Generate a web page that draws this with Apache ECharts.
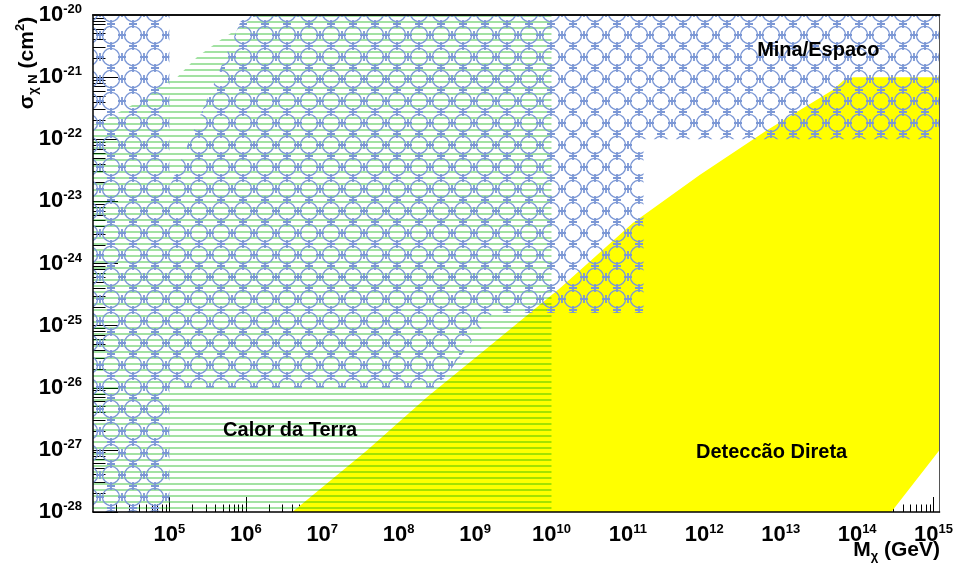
<!DOCTYPE html>
<html>
<head>
<meta charset="utf-8">
<script src="https://cdn.jsdelivr.net/npm/echarts@6/dist/echarts.min.js"></script>
<style>
  html, body { margin: 0; padding: 0; background: #fff; }
  #chart { width: 956px; height: 570px; }
</style>
</head>
<body>
<div id="chart"></div>
<script>
// Axis ranges (GeV on x, cm^2 on y)
const X_MIN = 1e4, X_MAX = 1.2e15;
const Y_MIN = 1e-28, Y_MAX = 1e-20;

// "Calor da Terra" excluded region: upper edge, then closing corners
const heatMass  = [1.0e4, 1.26e4, 5.1e4, 8.3e4, 1.26e5, 2.3e5, 4.7e5, 9.8e5, 1.3e6, 1.0e10, 1.0e10, 1.0e4];
const heatSigma = [1.7e-22, 1.9e-22, 4.8e-22, 7.9e-22, 1.0e-21, 2.1e-21, 4.0e-21, 7.2e-21, 1.0e-20, 1.0e-20, 1.0e-28, 1.0e-28];

// "Mina/Espaco" excluded region
const mineMass  = [1e4, 1e5, 1e5, 3.2e8, 1.7e9, 1.6e11, 1.6e11, 1.2e15, 1.2e15, 9.3e5, 1e5, 1e5, 1e4];
const mineSigma = [1e-28, 1e-28, 1e-26, 1e-26, 1.6e-25, 1.6e-25, 1e-22, 1e-22, 1e-20, 1e-20, 1.7e-23, 1e-20, 1e-20];

// "Deteccão Direta" excluded region
const directMass  = [4.06e6, 3.87e7, 2.36e8, 1.72e9, 1.29e10, 1.16e11, 8.7e11, 6.6e12, 4.8e13, 7.1e13, 9.0e13, 1.2e15, 1.2e15, 2.8e14];
const directSigma = [1e-28, 9.9e-28, 7.1e-27, 5.2e-26, 4.0e-25, 4.5e-24, 2.65e-23, 1.4e-22, 6.2e-22, 9.5e-22, 1e-21, 1e-21, 1e-27, 1e-28];

// Region names and where they sit (mass, cross section)
const regionNames = ['Mina/Espaco', 'Calor da Terra', 'Deteccão Direta'];
const nameMass    = [3.1e13, 3.8e6, 7.6e12];
const nameSigma   = [2.73e-21, 2.09e-27, 9.1e-28];

const FONT = "'Liberation Sans', Arial, Helvetica, sans-serif";
const lg = Math.log10;

// Both axes are decades: the value axes run over log10 of mass and cross section
const xLo = lg(X_MIN), xHi = lg(X_MAX);
const yLo = lg(Y_MIN), yHi = lg(Y_MAX);

// Log-axis minor ticks at 2..9 x 10^k, in decade units
function minorTicks(k0, k1, hi) {
  const out = [];
  for (let k = k0; k < k1; k++) {
    for (let m = 2; m <= 9; m++) {
      const v = k + lg(m);
      if (v < hi) out.push(v);
    }
  }
  return out;
}
const minorX = minorTicks(4, 16, xHi);
const minorY = minorTicks(-28, -20, yHi);

// Fill textures
function stripeTile() {
  const c = document.createElement('canvas');
  c.width = 8; c.height = 6;
  const g = c.getContext('2d');
  g.fillStyle = 'rgba(0,175,0,0.36)';
  g.fillRect(0, 3, 8, 2);
  return c;
}
// Rings that almost touch, with a small cross where neighbours meet
function ringTile() {
  const P = 22, R = 8.6, B = 4;
  const ox = 1, oy = 13;
  const c = document.createElement('canvas');
  c.width = P; c.height = P;
  const g = c.getContext('2d');
  g.strokeStyle = '#7b97d5';
  for (let i = -1; i <= 1; i++) {
    for (let j = -1; j <= 1; j++) {
      const cx = ox + i * P, cy = oy + j * P;
      g.lineWidth = 1.3;
      g.beginPath();
      g.arc(cx, cy, R, 0, Math.PI * 2);
      g.stroke();
      g.lineWidth = 1.8;
      g.beginPath();
      const hx = cx + P / 2, vy = cy + P / 2;
      g.moveTo(hx - B, cy); g.lineTo(hx + B, cy);
      g.moveTo(hx, cy - B); g.lineTo(hx, cy + B);
      g.moveTo(cx - B, vy); g.lineTo(cx + B, vy);
      g.moveTo(cx, vy - B); g.lineTo(cx, vy + B);
      g.stroke();
    }
  }
  return c;
}

function areaSeries(name, xs, ys, fill, z) {
  return {
    type: 'custom', name: name, z: z, silent: true, clip: true,
    xAxisIndex: 0, yAxisIndex: 0,
    data: [[lg(xs[0]), lg(ys[0])]],
    renderItem: function (params, api) {
      return {
        type: 'polygon',
        shape: { points: xs.map(function (x, i) { return api.coord([lg(x), lg(ys[i])]); }) },
        style: { fill: fill, stroke: null }
      };
    }
  };
}

function powLabel(v) {
  const e = Math.round(v);
  if (Math.abs(v - e) > 0.01) return '';
  return '{b|10}{e|' + e + '}';
}
const labelRich = {
  b: { fontSize: 22, fontWeight: 'bold', fontFamily: FONT, color: '#000', lineHeight: 24 },
  e: { fontSize: 13, fontWeight: 'bold', fontFamily: FONT, color: '#000', lineHeight: 14, verticalAlign: 'top' }
};

function frameAxis(base, extra) {
  return Object.assign({}, base, {
    axisTick: { show: false }, axisLabel: { show: false }, splitLine: { show: false }
  }, extra);
}

const xBase = { type: 'value', min: xLo, max: xHi, gridIndex: 0 };
const yBase = { type: 'value', min: yLo, max: yHi, gridIndex: 0 };

const chart = echarts.init(document.getElementById('chart'), null, { renderer: 'canvas' });
chart.setOption({
  animation: false,
  backgroundColor: '#fff',
  grid: { left: 93, right: 16, top: 15, bottom: 58 },
  xAxis: [
    Object.assign({}, xBase, {
      position: 'bottom', interval: 1, z: 0,
      axisLine: { show: false },
      axisTick: { show: true, inside: true, length: 15, lineStyle: { color: '#000', width: 1 } },
      axisLabel: { show: true, formatter: powLabel, rich: labelRich, margin: 11, interval: 0,
                   showMinLabel: false, hideOverlap: false },
      splitLine: { show: false }
    }),
    Object.assign({}, xBase, {
      position: 'bottom', z: 0,
      axisLine: { show: false },
      axisTick: { show: true, inside: true, length: 7.5, customValues: minorX, lineStyle: { color: '#000', width: 1 } },
      axisLabel: { show: false }, splitLine: { show: false }
    }),
    frameAxis(xBase, { position: 'bottom', z: 10, axisLine: { show: true, onZero: false, lineStyle: { color: '#000', width: 1.5 } } }),
    frameAxis(xBase, { position: 'top', z: 10, axisLine: { show: true, onZero: false, lineStyle: { color: '#111', width: 2 } } })
  ],
  yAxis: [
    Object.assign({}, yBase, {
      position: 'left', interval: 1, z: 0,
      axisLine: { show: false },
      axisTick: { show: true, inside: true, length: 25, lineStyle: { color: '#000', width: 1 } },
      axisLabel: { show: true, formatter: powLabel, rich: labelRich, margin: 11, interval: 0, hideOverlap: false },
      splitLine: { show: false }
    }),
    Object.assign({}, yBase, {
      position: 'left', z: 0,
      axisLine: { show: false },
      axisTick: { show: true, inside: true, length: 12.5, customValues: minorY, lineStyle: { color: '#000', width: 1 } },
      axisLabel: { show: false }, splitLine: { show: false }
    }),
    frameAxis(yBase, { position: 'left', z: 10, axisLine: { show: true, onZero: false, lineStyle: { color: '#000', width: 1.5 } } }),
    frameAxis(yBase, { position: 'right', z: 10, axisLine: { show: true, onZero: false, lineStyle: { color: '#555', width: 1 } } })
  ],
  graphic: [
    {
      type: 'text', x: 27, y: 63, rotation: Math.PI / 2, z: 20,
      style: {
        text: '{a|σ}{s|χ N}{a| (cm}{p|2}{a|)}',
        align: 'center', verticalAlign: 'middle',
        rich: {
          a: { fontSize: 21, fontWeight: 'bold', fontFamily: FONT, fill: '#000', lineHeight: 26, verticalAlign: 'middle' },
          s: { fontSize: 13, fontWeight: 'bold', fontFamily: FONT, fill: '#000', lineHeight: 12, verticalAlign: 'bottom' },
          p: { fontSize: 13, fontWeight: 'bold', fontFamily: FONT, fill: '#000', lineHeight: 12, verticalAlign: 'top' }
        }
      }
    },
    {
      type: 'text', x: 940, y: 550, z: 20,
      style: {
        text: '{a|M}{s|χ}{a| (GeV)}',
        align: 'right', verticalAlign: 'middle',
        rich: {
          a: { fontSize: 21, fontWeight: 'bold', fontFamily: FONT, fill: '#000', lineHeight: 26, verticalAlign: 'middle' },
          s: { fontSize: 13, fontWeight: 'bold', fontFamily: FONT, fill: '#000', lineHeight: 12, verticalAlign: 'bottom' }
        }
      }
    }
  ],
  series: [
    areaSeries('Deteccão Direta', directMass, directSigma, '#ffff00', 2),
    areaSeries('Calor da Terra', heatMass, heatSigma, { image: stripeTile(), repeat: 'repeat' }, 3),
    areaSeries('Mina/Espaco', mineMass, mineSigma, { image: ringTile(), repeat: 'repeat' }, 4),
    {
      type: 'custom', name: 'labels', z: 5, silent: true, clip: false,
      xAxisIndex: 0, yAxisIndex: 0,
      data: regionNames.map(function (n, i) { return [lg(nameMass[i]), lg(nameSigma[i])]; }),
      renderItem: function (params, api) {
        const p = api.coord([api.value(0), api.value(1)]);
        return {
          type: 'text', x: p[0], y: p[1],
          style: {
            text: regionNames[params.dataIndex],
            font: 'bold 20px ' + FONT, fill: '#000',
            align: 'center', verticalAlign: 'middle'
          }
        };
      }
    }
  ]
});
</script>
</body>
</html>
